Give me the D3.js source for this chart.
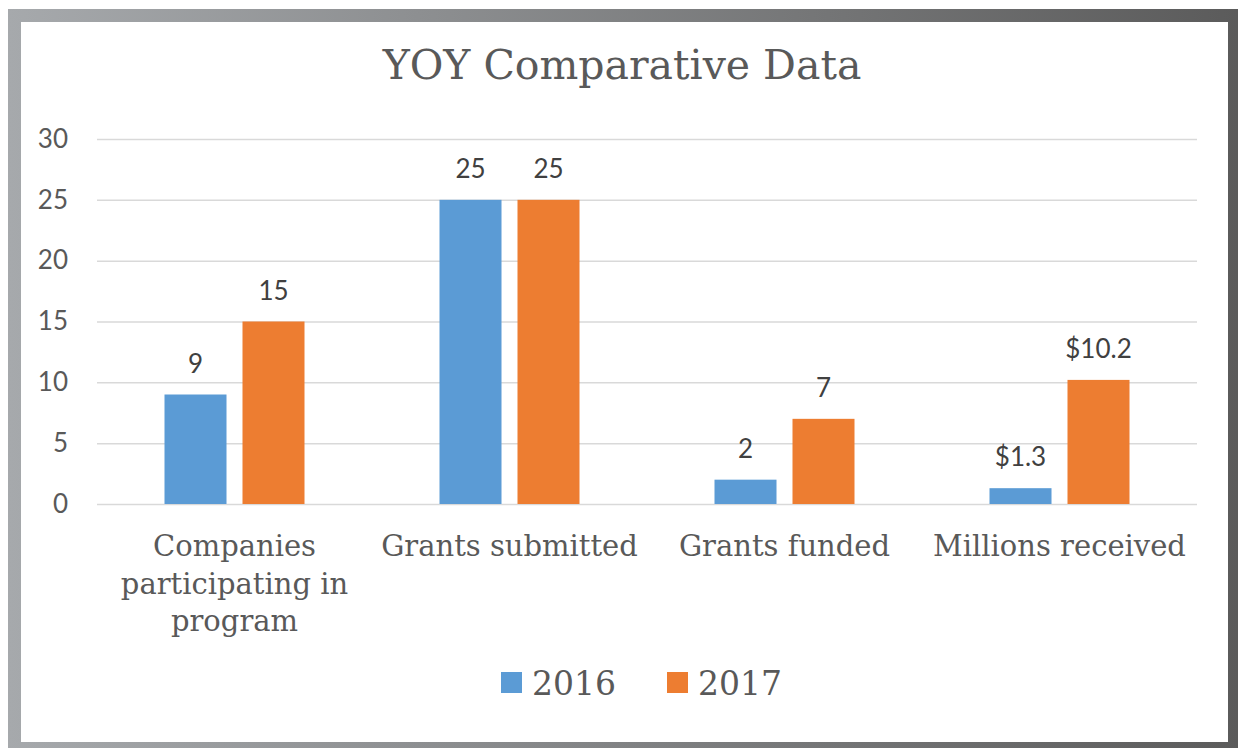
<!DOCTYPE html>
<html>
<head>
<meta charset="utf-8">
<script src="https://cdn.jsdelivr.net/npm/d3@7"></script>
<style>
  body { margin: 0; background: #fff; }
  svg { display: block; }
</style>
</head>
<body>
<svg id="chart"></svg>
<script>
// data
const categories = ["Companies participating in program", "Grants submitted", "Grants funded", "Millions received"];
const years = ["2016", "2017"];
const values2016 = [9, 25, 2, 1.3];
const values2017 = [15, 25, 7, 10.2];
const labelPrefix = ["", "", "", "$"];
const yTicks = [0, 5, 10, 15, 20, 25, 30];
const colors = ["#5B9BD5", "#ED7D31"];

const W = 1238, H = 748;
const plot = { left: 97, right: 1197, top: 139, bottom: 504 };

const svg = d3.select("#chart").attr("width", W).attr("height", H);

// frame with grey gradient
const grad = svg.append("defs").append("linearGradient")
    .attr("id", "frameGrad")
    .attr("x1", "0%").attr("x2", "100%").attr("y1", "0%").attr("y2", "0%");
grad.append("stop").attr("offset", "0%").attr("stop-color", "#a6a9ac");
grad.append("stop").attr("offset", "100%").attr("stop-color", "#5b5b5b");

svg.append("rect")
    .attr("x", 8).attr("y", 9)
    .attr("width", W - 8).attr("height", H - 9)
    .attr("fill", "url(#frameGrad)");
svg.append("rect")
    .attr("x", 21).attr("y", 22)
    .attr("width", 1228 - 21).attr("height", 742 - 22)
    .attr("fill", "#fff");

// scales
const x0 = d3.scaleBand().domain(categories).range([plot.left, plot.right]);
const x1 = d3.scaleBand().domain(years).range([-70, 70]).paddingInner(0.205);
const y = d3.scaleLinear().domain([0, 30]).range([plot.bottom, plot.top]);

// gridlines
svg.append("g")
    .attr("transform", `translate(${plot.left},0)`)
    .call(d3.axisLeft(y).tickValues(yTicks).tickSize(-(plot.right - plot.left)).tickFormat(""))
    .call(g => g.select(".domain").remove())
    .call(g => g.selectAll("line").attr("stroke", "#d9d9d9").attr("stroke-width", 1.5));

// y tick labels
svg.append("g")
    .attr("transform", `translate(${plot.left},0)`)
    .call(d3.axisLeft(y).tickValues(yTicks).tickSize(0).tickPadding(29))
    .call(g => g.select(".domain").remove())
    .call(g => g.selectAll("text")
        .attr("font-family", "Lato, 'Open Sans', sans-serif")
        .attr("font-size", 26)
        .attr("fill", "#595959"));

// bars
const series = [values2016, values2017];
const groups = svg.append("g").selectAll("g")
    .data(series)
    .join("g")
    .attr("fill", (d, i) => colors[i]);

groups.selectAll("rect")
    .data((vals, si) => vals.map((v, ci) => ({ v, ci, si })))
    .join("rect")
    .attr("x", d => x0(categories[d.ci]) + x0.bandwidth() / 2 + x1(years[d.si]))
    .attr("y", d => y(d.v))
    .attr("width", x1.bandwidth())
    .attr("height", d => y(0) - y(d.v));

// data labels
groups.selectAll("text")
    .data((vals, si) => vals.map((v, ci) => ({ v, ci, si })))
    .join("text")
    .attr("x", d => x0(categories[d.ci]) + x0.bandwidth() / 2 + x1(years[d.si]) + x1.bandwidth() / 2)
    .attr("y", d => y(d.v) - 22)
    .attr("text-anchor", "middle")
    .attr("font-family", "Lato, 'Open Sans', sans-serif")
    .attr("font-size", 26)
    .attr("fill", "#404040")
    .text(d => labelPrefix[d.ci] + d.v);

// category labels, wrapped to band width
const catLabels = svg.append("g")
    .selectAll("text")
    .data(categories)
    .join("text")
    .attr("text-anchor", "middle")
    .attr("font-family", "'DejaVu Serif', Georgia, serif")
    .attr("font-size", 29)
    .attr("fill", "#595959");

catLabels.each(function (d) {
    const t = d3.select(this);
    const cx = x0(d) + x0.bandwidth() / 2;
    const words = d.split(" ");
    let lines = [], cur = [];
    const probe = t.append("tspan");
    words.forEach(w => {
        const test = cur.concat(w).join(" ");
        probe.text(test);
        if (probe.node().getComputedTextLength() > x0.bandwidth() - 5 && cur.length) {
            lines.push(cur.join(" "));
            cur = [w];
        } else {
            cur.push(w);
        }
    });
    lines.push(cur.join(" "));
    probe.remove();
    lines.forEach((line, i) => {
        t.append("tspan")
            .attr("x", cx)
            .attr("y", 556 + i * 37.5)
            .text(line);
    });
});

// title
svg.append("text")
    .attr("x", 622)
    .attr("y", 79)
    .attr("text-anchor", "middle")
    .attr("font-family", "'DejaVu Serif', Georgia, serif")
    .attr("font-size", 41)
    .attr("fill", "#595959")
    .text("YOY Comparative Data");

// legend
const legend = svg.append("g");
const legendX = [501, 667];
years.forEach((yr, i) => {
    legend.append("rect")
        .attr("x", legendX[i]).attr("y", 672)
        .attr("width", 21).attr("height", 21)
        .attr("fill", colors[i]);
    legend.append("text")
        .attr("x", legendX[i] + 31)
        .attr("y", 695)
        .attr("font-family", "'DejaVu Serif', Georgia, serif")
        .attr("font-size", 33)
        .attr("fill", "#595959")
        .text(yr);
});
</script>
</body>
</html>
